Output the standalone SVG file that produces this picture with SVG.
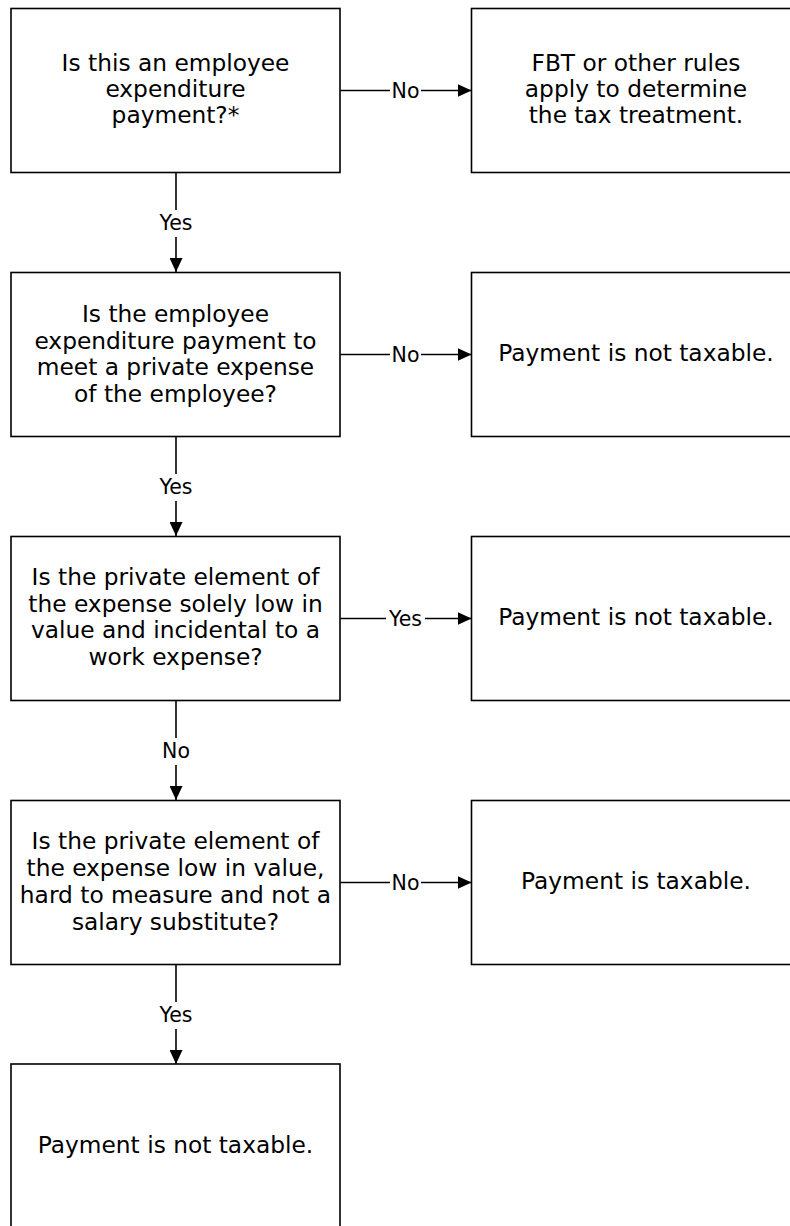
<svg xmlns="http://www.w3.org/2000/svg" width="790" height="1226" viewBox="0 0 790 1226">
<style>
.box{fill:#fff;stroke:#000;stroke-width:1.6}
.t{font-family:"DejaVu Sans",Verdana,sans-serif;font-size:23.3px;fill:#000;text-anchor:middle}
.lbl{font-family:"DejaVu Sans",Verdana,sans-serif;font-size:20.5px;fill:#000;text-anchor:middle}
.ln{fill:none;stroke:#000;stroke-width:1.6}
.bg{fill:#fff}
</style>
<defs>
<marker id="ah" markerWidth="14" markerHeight="13" refX="14" refY="6.5" orient="auto" markerUnits="userSpaceOnUse">
<path d="M0,0 L14,6.5 L0,13 Z" fill="#000"/>
</marker>
</defs>
<g id="connectors">
<path class="ln" d="M340.5,90.5 H471.5" marker-end="url(#ah)"/>
<rect class="bg" x="390" y="80" width="31" height="22"/>
<text class="lbl" x="405.5" y="97.5">No</text>
<path class="ln" d="M176,173 V272" marker-end="url(#ah)"/>
<rect class="bg" x="156" y="210" width="40" height="27"/>
<text class="lbl" x="176" y="229.5">Yes</text>

<path class="ln" d="M340.5,354.5 H471.5" marker-end="url(#ah)"/>
<rect class="bg" x="390" y="344" width="31" height="22"/>
<text class="lbl" x="405.5" y="361.5">No</text>
<path class="ln" d="M176,437 V536" marker-end="url(#ah)"/>
<rect class="bg" x="156" y="474" width="40" height="27"/>
<text class="lbl" x="176" y="493.5">Yes</text>

<path class="ln" d="M340.5,618.5 H471.5" marker-end="url(#ah)"/>
<rect class="bg" x="386" y="608" width="39" height="22"/>
<text class="lbl" x="405.5" y="625.5">Yes</text>
<path class="ln" d="M176,701 V800" marker-end="url(#ah)"/>
<rect class="bg" x="158" y="738" width="36" height="27"/>
<text class="lbl" x="176" y="757.5">No</text>

<path class="ln" d="M340.5,882.5 H471.5" marker-end="url(#ah)"/>
<rect class="bg" x="390" y="872" width="31" height="22"/>
<text class="lbl" x="405.5" y="889.5">No</text>
<path class="ln" d="M176,965 V1064" marker-end="url(#ah)"/>
<rect class="bg" x="156" y="1002" width="40" height="27"/>
<text class="lbl" x="176" y="1021.5">Yes</text>
</g>
<g id="q1">
<rect class="box" x="11" y="8.5" width="329" height="164"/>
<text class="t"><tspan x="175.5" y="71">Is this an employee</tspan><tspan x="175.5" y="97">expenditure</tspan><tspan x="175.5" y="122.5">payment?*</tspan></text>
</g>
<g id="r1">
<rect class="box" x="471.5" y="8.5" width="329" height="164"/>
<text class="t"><tspan x="636" y="71">FBT or other rules</tspan><tspan x="636" y="97">apply to determine</tspan><tspan x="636" y="122.5">the tax treatment.</tspan></text>
</g>
<g id="q2">
<rect class="box" x="11" y="272.5" width="329" height="164"/>
<text class="t"><tspan x="175.5" y="322">Is the employee</tspan><tspan x="175.5" y="348.5">expenditure payment to</tspan><tspan x="175.5" y="375">meet a private expense</tspan><tspan x="175.5" y="401.5">of the employee?</tspan></text>
</g>
<g id="r2">
<rect class="box" x="471.5" y="272.5" width="329" height="164"/>
<text class="t" x="636" y="361">Payment is not taxable.</text>
</g>
<g id="q3">
<rect class="box" x="11" y="536.5" width="329" height="164"/>
<text class="t"><tspan x="175.5" y="585">Is the private element of</tspan><tspan x="175.5" y="611.7">the expense solely low in</tspan><tspan x="175.5" y="638.3">value and incidental to a</tspan><tspan x="175.5" y="665">work expense?</tspan></text>
</g>
<g id="r3">
<rect class="box" x="471.5" y="536.5" width="329" height="164"/>
<text class="t" x="636" y="625">Payment is not taxable.</text>
</g>
<g id="q4">
<rect class="box" x="11" y="800.5" width="329" height="164"/>
<text class="t"><tspan x="175.5" y="849">Is the private element of</tspan><tspan x="175.5" y="876">the expense low in value,</tspan><tspan x="175.5" y="903">hard to measure and not a</tspan><tspan x="175.5" y="929.5">salary substitute?</tspan></text>
</g>
<g id="r4">
<rect class="box" x="471.5" y="800.5" width="329" height="164"/>
<text class="t" x="636" y="889">Payment is taxable.</text>
</g>
<g id="end">
<rect class="box" x="11" y="1064" width="329" height="164"/>
<text class="t" x="175.5" y="1153">Payment is not taxable.</text>
</g>
</svg>
